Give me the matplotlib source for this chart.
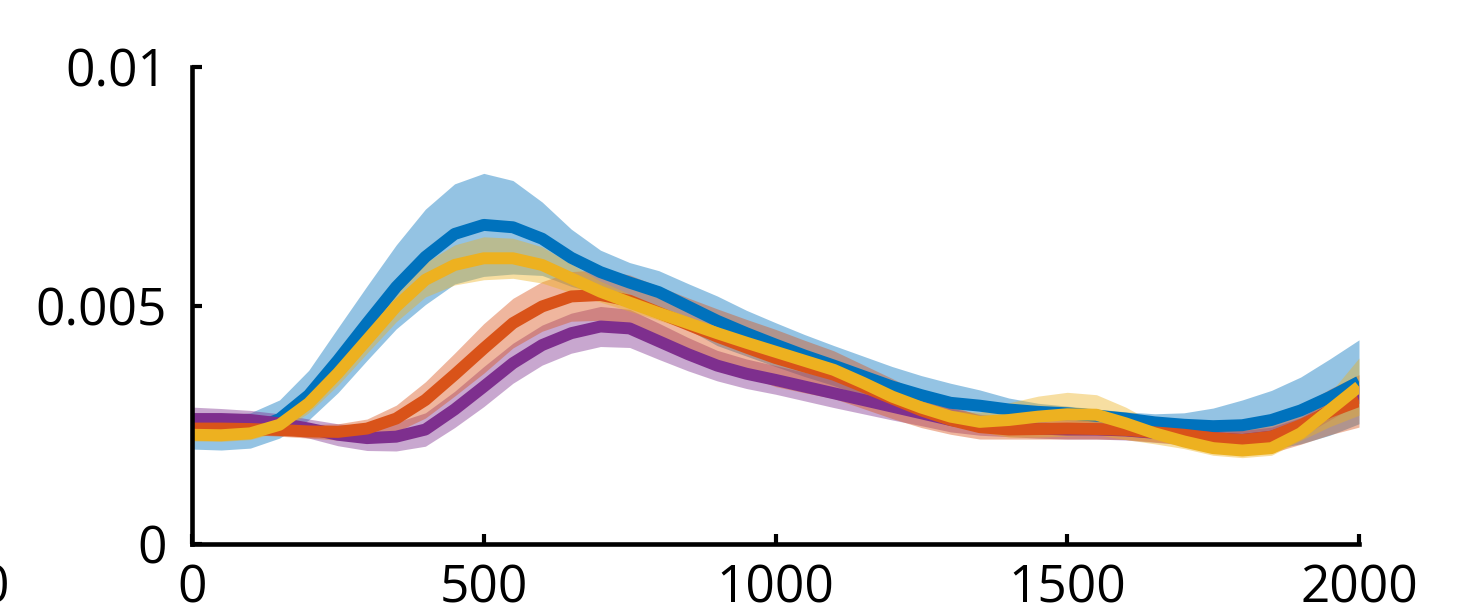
import matplotlib
matplotlib.use("Agg")
import matplotlib.pyplot as plt
import numpy as np

# ---- data (values in units of 1e-3) ----
x = np.arange(0, 2001, 50)

blue_mean = [2.34, 2.33, 2.38, 2.62, 3.12, 3.85, 4.63, 5.39, 6.02, 6.50, 6.69, 6.64, 6.40, 6.00,
             5.70, 5.48, 5.28, 4.98, 4.68, 4.42, 4.18, 3.95, 3.74, 3.52, 3.30, 3.12, 2.96, 2.90,
             2.82, 2.77, 2.74, 2.69, 2.63, 2.55, 2.50, 2.47, 2.49, 2.60, 2.80, 3.08, 3.40]
blue_err = [0.35, 0.36, 0.37, 0.40, 0.52, 0.68, 0.78, 0.88, 1.00, 1.05, 1.08, 0.98, 0.77, 0.60,
            0.46, 0.42, 0.45, 0.48, 0.52, 0.48, 0.46, 0.44, 0.42, 0.42, 0.42, 0.41, 0.41, 0.33,
            0.24, 0.18, 0.15, 0.14, 0.14, 0.18, 0.25, 0.38, 0.53, 0.62, 0.70, 0.80, 0.88]

purple_mean = [2.62, 2.62, 2.60, 2.53, 2.42, 2.29, 2.22, 2.25, 2.40, 2.82, 3.30, 3.79, 4.17, 4.42,
               4.56, 4.52, 4.25, 3.98, 3.74, 3.57, 3.44, 3.30, 3.16, 3.02, 2.88, 2.74, 2.60, 2.50,
               2.45, 2.42, 2.40, 2.40, 2.38, 2.33, 2.28, 2.22, 2.18, 2.25, 2.45, 2.80, 3.15]
purple_err = [0.25, 0.22, 0.20, 0.20, 0.20, 0.23, 0.26, 0.30, 0.35, 0.38, 0.42, 0.42, 0.42, 0.42,
              0.42, 0.40, 0.38, 0.35, 0.32, 0.31, 0.30, 0.30, 0.30, 0.29, 0.28, 0.26, 0.25, 0.22,
              0.20, 0.20, 0.20, 0.20, 0.20, 0.20, 0.20, 0.20, 0.20, 0.20, 0.20, 0.20, 0.20]

orange_mean = [2.42, 2.42, 2.41, 2.39, 2.36, 2.35, 2.42, 2.63, 3.02, 3.55, 4.10, 4.63, 4.98, 5.19,
               5.22, 5.10, 4.85, 4.60, 4.35, 4.12, 3.90, 3.72, 3.55, 3.30, 3.05, 2.80, 2.60, 2.45,
               2.40, 2.41, 2.42, 2.41, 2.39, 2.34, 2.29, 2.22, 2.18, 2.25, 2.49, 2.77, 3.00]
orange_err = [0.12, 0.12, 0.12, 0.13, 0.14, 0.17, 0.20, 0.28, 0.38, 0.45, 0.52, 0.52, 0.52, 0.52,
              0.53, 0.54, 0.55, 0.56, 0.58, 0.59, 0.60, 0.55, 0.50, 0.46, 0.42, 0.36, 0.30, 0.25,
              0.20, 0.21, 0.22, 0.21, 0.20, 0.20, 0.20, 0.24, 0.28, 0.34, 0.40, 0.48, 0.55]

yellow_mean = [2.29, 2.28, 2.32, 2.50, 2.95, 3.58, 4.28, 4.98, 5.54, 5.85, 5.99, 5.99, 5.85, 5.57,
               5.29, 5.06, 4.84, 4.63, 4.42, 4.22, 4.03, 3.84, 3.65, 3.38, 3.09, 2.86, 2.67, 2.56,
               2.60, 2.67, 2.72, 2.71, 2.53, 2.32, 2.15, 2.01, 1.96, 2.01, 2.32, 2.81, 3.30]
yellow_err = [0.13, 0.13, 0.13, 0.15, 0.20, 0.25, 0.28, 0.32, 0.36, 0.42, 0.45, 0.42, 0.38, 0.30,
              0.22, 0.18, 0.15, 0.14, 0.13, 0.13, 0.13, 0.13, 0.13, 0.13, 0.13, 0.13, 0.13, 0.20,
              0.36, 0.43, 0.46, 0.42, 0.34, 0.22, 0.15, 0.15, 0.15, 0.15, 0.15, 0.35, 0.60]

series = [
    (blue_mean, blue_err, "#0072BD"),
    (purple_mean, purple_err, "#7E2F8E"),
    (orange_mean, orange_err, "#D95319"),
    (yellow_mean, yellow_err, "#EDB120"),
]

xticks = [0, 500, 1000, 1500, 2000]
xticklabels = ["0", "500", "1000", "1500", "2000"]
yticks = [0, 0.005, 0.01]
yticklabels = ["0", "0.005", "0.01"]

# ---- figure ----
plt.rcParams["font.family"] = ["Open Sans", "DejaVu Sans"]
W, H = 1481, 604
fig = plt.figure(figsize=(W / 100, H / 100), dpi=100)
ax = fig.add_axes([192 / W, 60 / H, 1167 / W, 477 / H])

for m, e, c in series:
    m = np.array(m) * 1e-3
    e = np.array(e) * 1e-3
    ax.fill_between(x, m - e, m + e, color=c, alpha=0.42, linewidth=0)
    ax.plot(x, m, color=c, linewidth=8.6, solid_capstyle="butt", solid_joinstyle="round")

ax.set_xlim(0, 2000)
ax.set_ylim(0, 0.01)
ax.set_xticks(xticks)
ax.set_xticklabels(xticklabels)
ax.set_yticks(yticks)
ax.set_yticklabels(yticklabels)

for s in ["top", "right"]:
    ax.spines[s].set_visible(False)
for s in ["left", "bottom"]:
    ax.spines[s].set_linewidth(3.3)
    ax.spines[s].set_zorder(10)
    ax.spines[s].set_capstyle("projecting")

xpad = 14
ax.tick_params(axis="both", direction="in", length=7.5, width=3.0, labelsize=37, colors="black")
ax.tick_params(axis="x", pad=xpad)
ax.tick_params(axis="y", pad=18)

# stray clipped label at the far left
fig.text(-6 / W, (H - 544 - xpad * 100 / 72) / H, "0", ha="center", va="top", fontsize=37)

fig.savefig("out.png", dpi=100)
